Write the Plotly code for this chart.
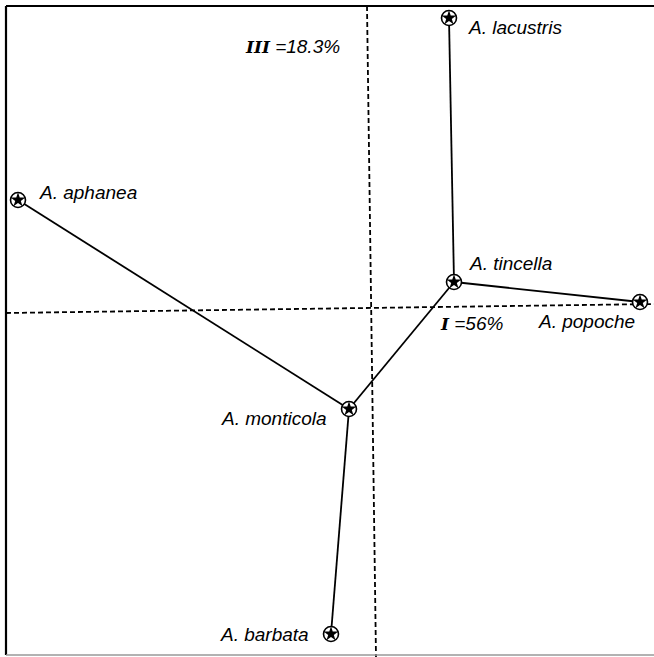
import plotly.graph_objects as go

# Ordination scores (axis I horizontal, axis III vertical)
species = ["A. aphanea", "A. lacustris", "A. tincella", "A. popoche", "A. monticola", "A. barbata"]
axis_I = [-3.54, 0.77, 0.82, 2.68, -0.23, -0.41]
axis_III = [1.09, 2.91, 0.27, 0.07, -1.00, -3.25]

# Minimum spanning tree links (pairs of species indices)
links = [(0, 4), (4, 2), (2, 1), (2, 3), (4, 5)]

# Reference axes drawn through the origin (slightly skewed as in the original figure)
vert_axis_x = [-0.05, 0.04]
vert_axis_y = [3.03, -3.48]
horiz_axis_x = [-3.66, 2.82]
horiz_axis_y = [-0.04, 0.05]

x_range = [-3.72, 2.82]
y_range = [-3.48, 3.09]

fig = go.Figure()

fig.add_trace(go.Scatter(x=vert_axis_x, y=vert_axis_y, mode="lines",
                         line=dict(color="black", width=1.8, dash="5px,3px"),
                         hoverinfo="skip", showlegend=False))
fig.add_trace(go.Scatter(x=horiz_axis_x, y=horiz_axis_y, mode="lines",
                         line=dict(color="black", width=1.8, dash="5px,3px"),
                         hoverinfo="skip", showlegend=False))

for a, b in links:
    fig.add_trace(go.Scatter(x=[axis_I[a], axis_I[b]], y=[axis_III[a], axis_III[b]],
                             mode="lines", line=dict(color="black", width=1.8),
                             hoverinfo="skip", showlegend=False))

# Circle with inscribed star marker
fig.add_trace(go.Scatter(x=axis_I, y=axis_III, mode="markers",
                         marker=dict(symbol="circle", size=15, color="white",
                                     line=dict(color="black", width=1.6)),
                         showlegend=False))
fig.add_trace(go.Scatter(x=axis_I, y=axis_III, mode="markers",
                         marker=dict(symbol="star", size=11, color="black",
                                     line=dict(width=0)),
                         showlegend=False))

label_font = dict(family="Liberation Sans, Arial, sans-serif", size=19, color="black")

offsets = {
    "A. aphanea": (19, -8, "left"),
    "A. lacustris": (17, 9, "left"),
    "A. tincella": (13, -19, "left"),
    "A. popoche": (-3, 19, "right"),
    "A. monticola": (-20, 9, "right"),
    "A. barbata": (-20, 0, "right"),
}
for name, xv, yv in zip(species, axis_I, axis_III):
    dx, dy, anchor = offsets[name]
    fig.add_annotation(x=xv, y=yv, text=f"<i>{name}</i>", showarrow=False,
                       xanchor=anchor, yanchor="middle", xshift=dx, yshift=-dy,
                       font=label_font)

fig.add_annotation(x=0.0, y=2.63, xanchor="right", yanchor="middle", xshift=-30,
                   text="<b><i><span style='font-family:DejaVu Serif;font-size:17px'>III</span></i></b> <i>=18.3%</i>",
                   showarrow=False, font=label_font)
fig.add_annotation(x=0.66, y=-0.14, xanchor="left", yanchor="middle",
                   text="<b><i><span style='font-family:DejaVu Serif;font-size:17px'>I</span></i></b> <i>=56%</i>",
                   showarrow=False, font=label_font)

# Frame: left, top and bottom edges
frame = dict(type="line", xref="paper", yref="paper", line=dict(color="black", width=2.2))
fig.add_shape(**frame, x0=6 / 654, x1=6 / 654, y0=1 - 6 / 657, y1=1 - 655 / 657)
fig.add_shape(**frame, x0=6 / 654, x1=1.0, y0=1 - 6 / 657, y1=1 - 6 / 657)
fig.add_shape(type="line", xref="paper", yref="paper", x0=6 / 654, x1=1.0,
              y0=1 - 655 / 657, y1=1 - 655 / 657, line=dict(color="#999999", width=1.5))

fig.update_xaxes(range=x_range, visible=False, fixedrange=True)
fig.update_yaxes(range=y_range, visible=False, fixedrange=True)
fig.update_layout(width=654, height=657, margin=dict(l=0, r=0, t=0, b=0),
                  plot_bgcolor="white", paper_bgcolor="white")

fig.write_html("out.html", config=dict(displayModeBar=False))
